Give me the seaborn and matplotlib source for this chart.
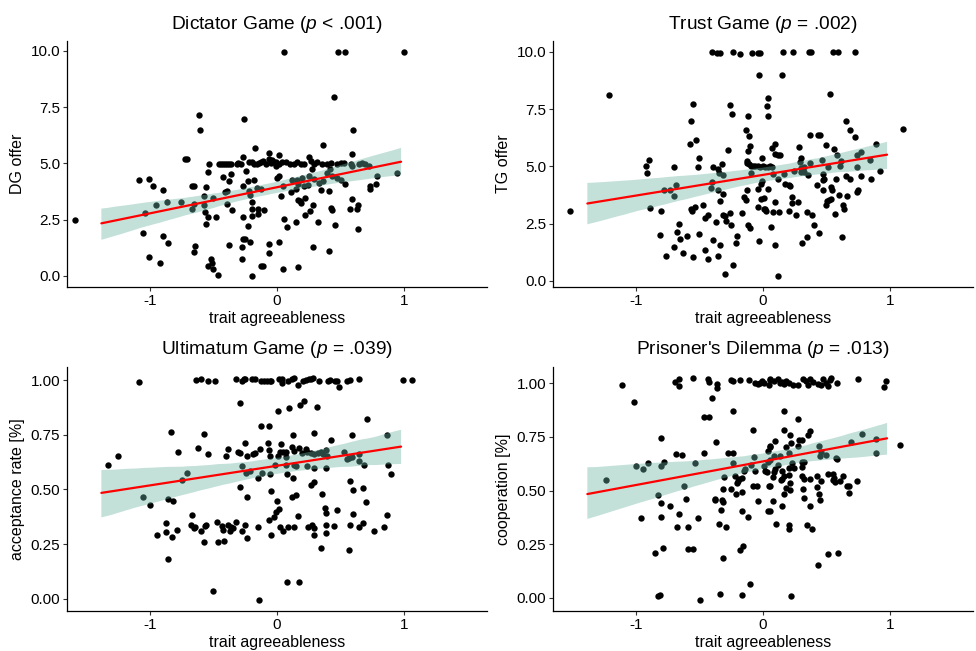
import numpy as np
import pandas as pd
import matplotlib
matplotlib.use("Agg")
import matplotlib.pyplot as plt
import seaborn as sns
from matplotlib.ticker import FormatStrFormatter

sns.set_theme(style="ticks")
plt.rcParams['font.family'] = ['Liberation Sans', 'DejaVu Sans']
plt.rcParams['mathtext.fontset'] = 'custom'
plt.rcParams['mathtext.it'] = 'Liberation Sans:italic'
plt.rcParams['mathtext.rm'] = 'Liberation Sans'
plt.rcParams['axes.unicode_minus'] = False

# ---------------- data (trait agreeableness, outcome) ----------------
dg_points = [
    (-1.584, 2.46), (-1.088, 4.24), (-1.004, 4.32), (-0.978, 4.00), (-0.894, 3.81), (-1.051, 1.90),
    (-1.035, 2.80), (-0.952, 3.14), (-0.868, 3.27), (-0.758, 3.27), (-0.899, 1.77), (-0.860, 1.44),
    (-1.007, 0.85), (-0.923, 0.57), (-0.722, 5.18), (-0.708, 5.21), (-0.609, 7.13), (-0.607, 6.47),
    (-0.664, 3.99), (-0.654, 3.99), (-0.667, 2.99), (-0.656, 3.17), (-0.648, 1.34), (-0.656, 1.04),
    (-0.557, 3.96), (-0.570, 3.54), (-0.573, 3.13), (-0.567, 2.83), (-0.546, 2.60), (-0.557, 2.32),
    (-0.531, 4.96), (-0.539, 4.60), (-0.502, 3.44), (-0.481, 2.60), (-0.546, 0.42), (-0.518, 0.76),
    (-0.507, 0.58), (-0.499, 0.31), (-0.465, 0.03),
    (-0.455, 4.98), (-0.440, 4.98), (-0.424, 4.99), (-0.408, 4.98), (-0.392, 4.98), (-0.377, 4.97), (-0.361, 4.97),
    (-0.424, 4.40), (-0.408, 3.71), (-0.395, 3.76), (-0.389, 3.20), (-0.376, 4.21), (-0.361, 4.52),
    (-0.350, 2.93), (-0.376, 1.35), (-0.316, 4.98), (-0.306, 5.01), (-0.282, 4.98), (-0.267, 5.30),
    (-0.256, 6.95), (-0.269, 3.97), (-0.246, 4.64), (-0.227, 4.21), (-0.220, 3.79), (-0.212, 3.59),
    (-0.199, 3.26), (-0.269, 2.62), (-0.227, 2.23), (-0.264, 1.65), (-0.254, 1.65), (-0.272, 1.29),
    (-0.209, 1.49), (-0.274, 0.76), (-0.193, 0.00), (-0.173, 5.70), (-0.178, 4.26), (-0.193, 2.95),
    (-0.199, 2.65), (-0.152, 2.99), (-0.146, 2.75), (-0.154, 3.90), (-0.125, 3.87), (-0.105, 2.93),
    (-0.220, 5.07), (-0.199, 5.04), (-0.180, 4.98), (-0.160, 4.96), (-0.141, 5.01), (-0.125, 5.04),
    (-0.107, 5.10), (-0.089, 4.98), (-0.063, 5.18), (-0.047, 5.03), (-0.037, 5.13), (-0.021, 5.07),
    (-0.005, 5.04), (-0.010, 4.88),
    (-0.065, 5.46), (-0.065, 1.41), (-0.063, 1.00), (-0.128, 0.42), (-0.107, 0.42), (0.000, 4.36), (0.016, 1.50),
    (0.058, 9.94), (0.481, 9.94), (0.531, 9.94), (1.001, 9.94), (0.447, 7.95), (0.599, 6.47),
    (0.591, 5.43), (0.363, 5.82), (0.016, 5.37), (0.251, 5.30),
    (0.016, 4.96), (0.042, 5.04), (0.073, 5.07), (0.099, 4.96), (0.133, 4.99), (0.160, 5.04),
    (0.186, 4.99), (0.212, 4.96), (0.264, 5.10), (0.290, 4.99), (0.316, 5.04), (0.356, 4.99),
    (0.395, 4.99), (0.421, 5.01), (0.473, 4.99), (0.499, 5.00), (0.525, 5.01), (0.578, 4.99),
    (0.591, 4.88), (0.643, 4.99), (0.669, 5.01), (0.695, 4.99), (0.722, 4.87),
    (0.277, 4.73), (0.416, 4.73), (0.390, 4.57), (0.946, 4.58), (0.787, 4.42), (0.729, 3.99),
    (0.729, 3.88), (0.776, 4.09), (0.536, 4.06), (0.502, 4.27), (0.471, 4.36), (0.434, 4.45),
    (0.361, 4.21), (0.329, 4.12), (0.290, 4.30), (0.251, 4.45), (0.246, 4.03), (0.212, 3.99),
    (0.193, 4.33), (0.167, 4.06), (0.160, 4.26), (0.118, 4.26), (0.047, 3.99), (0.016, 4.43),
    (0.031, 3.54), (0.110, 3.71), (0.152, 3.87), (0.342, 3.82), (0.410, 3.75), (0.167, 3.36),
    (0.186, 3.23), (0.178, 3.32), (0.220, 3.44), (0.285, 3.13), (0.256, 2.90), (0.220, 2.71),
    (0.421, 3.02), (0.434, 2.92), (0.586, 3.42), (0.570, 2.98), (0.625, 2.98), (0.633, 3.13),
    (0.633, 2.08), (0.055, 2.51), (0.081, 2.16), (0.146, 2.40), (0.324, 2.40), (0.455, 2.25),
    (0.282, 1.28), (0.408, 1.12), (0.047, 0.30), (0.162, 0.39),
]

tg_points = [
    (-1.513, 3.07), (-1.211, 8.13), (-0.916, 5.01), (-0.895, 5.26), (-0.908, 4.71), (-0.889, 3.20),
    (-0.800, 3.03), (-0.810, 1.99), (-0.760, 1.10), (-0.779, 3.95), (-0.732, 3.98), (-0.697, 3.70),
    (-0.682, 4.17), (-0.697, 4.97), (-0.697, 1.46), (-0.679, 2.13), (-0.650, 1.84), (-0.663, 2.49),
    (-0.629, 1.20), (-0.595, 1.97), (-0.571, 5.96), (-0.566, 6.97), (-0.553, 7.72), (-0.526, 6.15),
    (-0.500, 5.35), (-0.513, 4.97), (-0.568, 3.16), (-0.555, 3.04), (-0.537, 3.22), (-0.550, 1.05),
    (-0.505, 2.03), (-0.468, 3.30), (-0.458, 2.73), (-0.453, 1.33), (-0.432, 0.96), (-0.432, 2.88),
    (-0.395, 1.77), (-0.400, 4.34), (-0.405, 4.06), (-0.389, 4.97), (-0.368, 2.59), (-0.355, 3.95),
    (-0.350, 4.90), (-0.342, 4.72), (-0.350, 1.10), (-0.334, 1.56), (-0.337, 3.48), (-0.324, 5.10),
    (-0.311, 4.61), (-0.316, 2.89), (-0.297, 2.85), (-0.292, 2.62), (-0.313, 3.80), (-0.297, 0.32),
    (-0.274, 5.72), (-0.260, 7.68), (-0.245, 7.30), (-0.258, 2.97), (-0.255, 2.43), (-0.232, 0.70),
    (-0.211, 1.65), (-0.203, 1.96), (-0.166, 2.97), (-0.153, 3.65), (-0.137, 3.52), (-0.126, 3.98),
    (-0.121, 2.43), (-0.105, 2.31), (-0.132, 6.59), (-0.116, 7.19), (-0.113, 6.35), (-0.105, 5.91),
    (-0.121, 5.66), (-0.124, 5.23), (-0.097, 4.71),
    (-0.126, 5.16), (-0.113, 5.09), (-0.095, 5.03), (-0.079, 5.00), (-0.061, 5.00), (-0.042, 5.00),
    (-0.021, 4.97), (0.000, 5.00), (0.018, 4.97), (0.037, 4.97), (0.053, 5.00),
    (-0.403, 9.99), (-0.363, 9.96), (-0.337, 9.96), (-0.239, 9.99), (-0.182, 9.93), (-0.084, 9.96),
    (-0.039, 9.96), (-0.026, 9.96),
    (-0.034, 8.98), (0.042, 8.00), (0.029, 7.65), (0.037, 7.21), (-0.008, 5.38), (-0.008, 4.36),
    (-0.013, 4.22), (-0.042, 4.02), (-0.013, 3.57), (0.011, 3.61), (0.005, 3.14), (0.037, 4.00),
    (-0.039, 3.22), (0.018, 3.16), (0.026, 3.04), (-0.032, 1.75),
    (0.158, 9.99), (0.237, 9.99), (0.365, 9.99), (0.381, 9.99), (0.550, 9.99), (0.592, 9.99), (0.723, 9.99),
    (0.152, 8.98), (0.526, 8.16), (0.655, 7.00), (0.681, 6.61), (0.723, 6.29), (1.102, 6.64),
    (0.373, 6.37), (0.434, 6.37), (0.447, 6.37), (0.492, 5.92), (0.558, 5.77), (0.095, 5.99),
    (0.071, 5.82), (0.097, 5.56), (0.115, 5.50), (0.136, 5.48), (0.281, 5.85), (0.300, 5.38),
    (0.289, 5.18), (0.297, 4.91), (0.321, 4.77), (0.297, 4.77), (0.071, 4.97), (0.079, 4.65),
    (0.163, 4.65), (0.121, 4.44), (0.242, 4.80), (0.321, 4.97), (0.355, 4.61), (0.368, 5.16),
    (0.460, 5.29), (0.473, 4.65), (0.478, 4.44), (0.473, 4.42), (0.513, 4.97), (0.571, 4.47),
    (0.584, 5.50), (0.605, 5.00), (0.610, 5.23), (0.655, 4.56), (0.681, 4.44), (0.742, 5.50),
    (0.768, 5.61), (0.737, 4.97), (0.768, 4.58), (0.842, 5.29), (0.845, 4.43), (0.890, 5.96),
    (0.921, 4.82), (0.176, 4.24), (0.202, 4.18), (0.215, 4.15), (0.426, 4.17), (0.471, 3.98),
    (0.531, 4.09), (0.539, 3.98), (0.597, 3.74), (0.663, 3.71), (0.747, 3.95), (0.742, 3.86),
    (0.231, 3.68), (0.226, 3.39), (0.276, 3.44), (0.263, 2.89), (0.095, 3.44), (0.202, 3.07),
    (0.079, 3.01), (0.123, 3.01), (0.347, 3.00), (0.387, 2.87), (0.492, 3.33), (0.505, 3.48),
    (0.518, 3.55), (0.536, 3.58), (0.631, 3.30), (0.637, 3.16), (0.565, 2.92), (0.066, 2.37),
    (0.400, 2.43), (0.439, 2.09), (0.347, 1.93), (0.310, 1.65), (0.095, 1.56), (0.621, 1.90),
    (0.121, 0.22),
]

ug_points = [
    (-1.328, 0.611), (-1.249, 0.652), (-1.081, 0.989), (-1.055, 0.464), (-0.997, 0.428), (-0.939, 0.292),
    (-0.876, 0.307), (-0.871, 0.346), (-0.858, 0.458), (-0.855, 0.182), (-0.824, 0.284), (-0.821, 0.446),
    (-0.832, 0.762), (-0.779, 0.670), (-0.787, 0.316), (-0.750, 0.542), (-0.711, 0.573), (-0.666, 0.381),
    (-0.674, 0.337), (-0.656, 0.325), (-0.648, 0.328), (-0.622, 0.691), (-0.635, 1.000), (-0.595, 1.003),
    (-0.543, 0.994), (-0.490, 0.997), (-0.572, 0.753), (-0.546, 0.664), (-0.598, 0.310), (-0.575, 0.259),
    (-0.567, 0.334), (-0.556, 0.337), (-0.504, 0.035), (-0.467, 0.260), (-0.470, 0.350), (-0.436, 0.334),
    (-0.425, 0.315), (-0.415, 0.265), (-0.402, 0.652), (-0.386, 0.685), (-0.388, 0.337), (-0.373, 0.310),
    (-0.362, 0.328), (-0.346, 0.322), (-0.320, 1.006), (-0.278, 0.997), (-0.259, 1.003), (-0.252, 1.006),
    (-0.294, 0.894), (-0.320, 0.352), (-0.306, 0.673), (-0.294, 0.666), (-0.289, 0.511), (-0.273, 0.310),
    (-0.255, 0.337), (-0.249, 0.710), (-0.237, 0.464), (-0.237, 0.280), (-0.273, 0.607), (-0.241, 0.573),
    (-0.233, 0.652), (-0.210, 0.585), (-0.200, 1.006), (-0.176, 1.003), (-0.128, 0.997), (-0.189, 0.663),
    (-0.176, 0.667), (-0.137, 0.685), (-0.152, 0.552), (-0.147, 0.327), (-0.126, 0.791), (-0.121, 0.573),
    (-0.105, 0.997), (-0.079, 0.997), (-0.058, 0.997), (-0.066, 0.791), (-0.073, 0.710), (-0.063, 0.679),
    (-0.063, 0.359), (-0.144, -0.005),
    (-0.044, 0.997), (0.016, 1.003), (0.037, 1.006), (0.042, 0.988), (0.087, 0.997), (0.121, 1.003),
    (0.132, 1.009), (0.205, 0.997), (0.226, 1.000), (0.252, 1.003), (0.271, 1.006), (0.284, 1.009),
    (0.331, 0.997), (0.402, 0.997), (0.415, 1.000), (0.454, 0.997), (0.475, 0.994), (0.552, 0.994),
    (0.573, 1.000), (0.646, 1.006),
    (0.166, 0.976), (0.486, 0.968), (0.987, 1.000), (1.058, 1.000), (0.011, 0.858), (0.095, 0.874),
    (0.184, 0.885), (0.213, 0.902), (0.315, 0.876), (0.709, 0.821), (0.129, 0.749), (0.292, 0.758),
    (0.426, 0.728), (0.586, 0.747), (0.861, 0.749), (0.032, 0.707), (0.021, 0.673), (0.116, 0.693),
    (0.174, 0.691), (0.226, 0.687), (0.047, 0.673), (0.068, 0.673), (0.011, 0.652), (0.074, 0.648),
    (0.132, 0.676), (0.194, 0.667), (0.236, 0.670), (0.268, 0.667), (0.292, 0.663), (0.326, 0.667),
    (0.342, 0.670), (0.362, 0.664), (0.383, 0.682), (0.394, 0.652), (0.525, 0.673), (0.562, 0.643),
    (0.586, 0.646), (0.552, 0.637), (0.646, 0.664), (0.646, 0.631), (0.685, 0.610), (-0.057, 0.655),
    (-0.018, 0.611), (0.074, 0.610), (0.132, 0.610), (0.147, 0.607), (0.236, 0.607), (0.292, 0.596),
    (0.383, 0.598), (0.869, 0.613), (0.898, 0.570), (-0.057, 0.570), (0.079, 0.569), (0.129, 0.552),
    (0.268, 0.519), (0.292, 0.534), (0.575, 0.539), (0.599, 0.496), (0.677, 0.507), (-0.050, 0.495),
    (0.116, 0.464), (0.147, 0.474), (0.357, 0.477), (0.000, 0.446), (0.696, 0.443), (0.016, 0.410),
    (-0.011, 0.395), (-0.021, 0.374), (0.166, 0.377), (0.376, 0.413), (0.383, 0.392), (0.468, 0.404),
    (0.599, 0.386), (0.866, 0.384), (0.021, 0.328), (0.047, 0.310), (0.090, 0.328), (0.132, 0.328),
    (0.242, 0.327), (0.278, 0.337), (0.289, 0.322), (0.383, 0.337), (0.449, 0.334), (0.573, 0.337),
    (0.641, 0.330), (0.677, 0.345), (0.292, 0.290), (0.388, 0.300), (0.761, 0.312), (0.840, 0.330),
    (-0.050, 0.293), (0.349, 0.233), (0.565, 0.224), (0.079, 0.079), (0.176, 0.079),
]

pd_points = [
    (-1.111, 0.992), (-1.016, 0.912), (-1.234, 0.549), (-1.000, 0.616), (-0.942, 0.600), (-0.903, 0.628),
    (-0.958, 0.372), (-0.826, 0.481), (-0.805, 0.616), (-0.779, 0.631), (-0.800, 0.745), (-0.805, 0.441),
    (-0.803, 0.377), (-0.732, 0.427), (-0.845, 0.211), (-0.787, 0.233), (-0.826, 0.011), (-0.813, 0.014),
    (-0.687, 0.670), (-0.634, 0.664), (-0.689, 1.005), (-0.658, 1.017), (-0.658, 0.986), (-0.618, 0.520),
    (-0.603, 0.461), (-0.658, 0.392), (-0.674, 0.332), (-0.587, 0.332), (-0.592, 0.228), (-0.553, 0.228),
    (-0.547, 1.022), (-0.537, 0.630), (-0.513, 0.373), (-0.495, -0.009), (-0.463, 0.676), (-0.461, 0.844),
    (-0.421, 0.841), (-0.429, 1.020), (-0.424, 1.005), (-0.363, 0.994), (-0.363, 0.978), (-0.397, 0.932),
    (-0.371, 0.727), (-0.379, 0.461), (-0.374, 0.454), (-0.316, 0.505), (-0.321, 0.454), (-0.313, 0.446),
    (-0.332, 0.409), (-0.347, 0.344), (-0.292, 0.329), (-0.316, 0.184), (-0.339, 0.017), (-0.303, 0.562),
    (-0.276, 0.674), (-0.232, 0.674), (-0.237, 0.630), (-0.250, 0.505), (-0.216, 0.486), (-0.253, 1.014),
    (-0.234, 1.009), (-0.179, 1.014), (-0.111, 1.014), (-0.237, 0.870), (-0.221, 0.569), (-0.200, 0.543),
    (-0.187, 0.554), (-0.166, 0.559), (-0.205, 0.535), (-0.166, 0.492), (-0.168, 0.404), (-0.184, 0.225),
    (-0.161, 0.244), (-0.168, 0.014), (-0.145, 0.600), (-0.147, 0.591), (-0.121, 0.378), (-0.105, 0.065),
    (-0.095, 0.620), (-0.082, 0.781), (-0.074, 0.654), (-0.061, 0.591), (-0.082, 0.523), (-0.047, 0.523),
    (-0.037, 0.451), (0.037, 0.403), (-0.063, 0.998), (-0.042, 0.994), (-0.026, 1.002), (-0.008, 1.009),
    (0.011, 1.002), (0.053, 1.017), (0.045, 0.989), (0.011, 0.613), (0.037, 0.631), (0.018, 0.593),
    (0.032, 0.588), (0.039, 0.685), (0.053, 0.705), (0.050, 0.523),
    (0.058, 1.014), (0.084, 1.009), (0.115, 1.020), (0.131, 0.998), (0.152, 1.005), (0.168, 0.994),
    (0.184, 1.009), (0.202, 1.002), (0.237, 0.989), (0.273, 0.992), (0.316, 1.017), (0.334, 1.011),
    (0.352, 0.989), (0.373, 1.020), (0.394, 1.005), (0.434, 0.994), (0.452, 0.989), (0.473, 1.020),
    (0.492, 1.002), (0.510, 0.986), (0.526, 1.014), (0.537, 1.023), (0.579, 0.998), (0.747, 1.020),
    (0.952, 0.983), (0.968, 1.009),
    (0.168, 0.872), (0.273, 0.832), (0.168, 0.782), (0.210, 0.759), (0.352, 0.758), (0.373, 0.776),
    (0.097, 0.730), (0.058, 0.704), (0.184, 0.704), (0.221, 0.719), (0.273, 0.708), (0.281, 0.733),
    (0.310, 0.735), (0.205, 0.674), (0.089, 0.659), (0.131, 0.662), (0.439, 0.708), (0.458, 0.681),
    (0.447, 0.659), (0.494, 0.665), (0.573, 0.650), (0.579, 0.647), (0.689, 0.727), (0.781, 0.762),
    (0.889, 0.739), (0.889, 0.673), (1.073, 0.711), (0.058, 0.644), (0.115, 0.619), (0.097, 0.600),
    (0.089, 0.585), (0.231, 0.628), (0.247, 0.605), (0.205, 0.603), (0.307, 0.634), (0.326, 0.634),
    (0.310, 0.610), (0.150, 0.591), (0.163, 0.569), (0.202, 0.573), (0.150, 0.554), (0.142, 0.548),
    (0.310, 0.569), (0.326, 0.554), (0.373, 0.554), (0.426, 0.569), (0.452, 0.542), (0.513, 0.577),
    (0.552, 0.576), (0.547, 0.551), (0.558, 0.560), (0.563, 0.539), (0.602, 0.542), (0.631, 0.569),
    (0.737, 0.546), (0.658, 0.519), (0.679, 0.519), (0.679, 0.489), (0.058, 0.520), (0.079, 0.562),
    (0.210, 0.535), (0.184, 0.511), (0.215, 0.503), (0.313, 0.508), (0.426, 0.514), (0.442, 0.483),
    (0.447, 0.455), (0.168, 0.483), (0.321, 0.464), (0.079, 0.451), (0.152, 0.427), (0.368, 0.429),
    (0.058, 0.406), (0.105, 0.346), (0.205, 0.341), (0.205, 0.323), (0.342, 0.341), (0.384, 0.323),
    (0.513, 0.205), (0.589, 0.210), (0.431, 0.154), (0.221, 0.011),
]

titles = [r"Dictator Game ($\mathit{p}$ < .001)", r"Trust Game ($\mathit{p}$ = .002)",
          r"Ultimatum Game ($\mathit{p}$ = .039)", r"Prisoner's Dilemma ($\mathit{p}$ = .013)"]
ylabels = ["DG offer", "TG offer", "acceptance rate [%]", "cooperation [%]"]
xlabel = "trait agreeableness"
agree_range = [-1.38, 0.975]          # observed range of the trait scores (fit line span)
x_ticks = [-1, 0, 1]
y_ticks_offer = [0, 2.5, 5, 7.5, 10]
y_ticks_rate = [0, 0.25, 0.5, 0.75, 1.0]

# ---------------- figure ----------------
W, H = 976, 651
fig = plt.figure(figsize=(W / 100, H / 100), dpi=100)
fig.patch.set_facecolor("white")

boxes = [(67, 41, 487, 287), (553, 41, 973, 287), (67, 367, 487, 611), (553, 367, 973, 611)]
datasets = [dg_points, tg_points, ug_points, pd_points]
yticks = [y_ticks_offer, y_ticks_offer, y_ticks_rate, y_ticks_rate]
yfmt = ["%.1f", "%.1f", "%.2f", "%.2f"]

band_color = "#69b3a2"

for i, (l, t, r, b) in enumerate(boxes):
    ax = fig.add_axes([l / W, (H - b) / H, (r - l) / W, (b - t) / H])
    ax.set_facecolor("white")
    df = pd.DataFrame(datasets[i], columns=["x", "y"])
    sns.scatterplot(data=df, x="x", y="y", ax=ax, color="black", s=21, linewidth=0)
    ax.set_xlim(*agree_range)
    sns.regplot(data=df, x="x", y="y", ax=ax, scatter=False, truncate=False,
                ci=95, n_boot=1000, seed=3, color="red", line_kws={"linewidth": 1.6})
    band = ax.collections[-1]
    band.set_facecolor(band_color)
    band.set_edgecolor("none")
    band.set_alpha(0.4)
    ax.set_xlim(-1.65, 1.65)
    ax.autoscale(enable=True, axis="y")
    ax.set_xticks(x_ticks)
    ax.set_yticks(yticks[i])
    ax.yaxis.set_major_formatter(FormatStrFormatter(yfmt[i]))
    ax.set_title(titles[i], fontsize=13.8, color="black", pad=9)
    ax.set_xlabel(xlabel, fontsize=11.5, color="black", labelpad=2)
    ax.set_ylabel(ylabels[i], fontsize=11.5, color="black", labelpad=4)
    ax.tick_params(axis="both", labelsize=11, colors="#333333", labelcolor="black",
                   length=3, width=0.8, pad=2)
    sns.despine(ax=ax)
    for s in ["left", "bottom"]:
        ax.spines[s].set_color("black")
        ax.spines[s].set_linewidth(0.9)

fig.savefig("out.png", dpi=100, facecolor="white")
